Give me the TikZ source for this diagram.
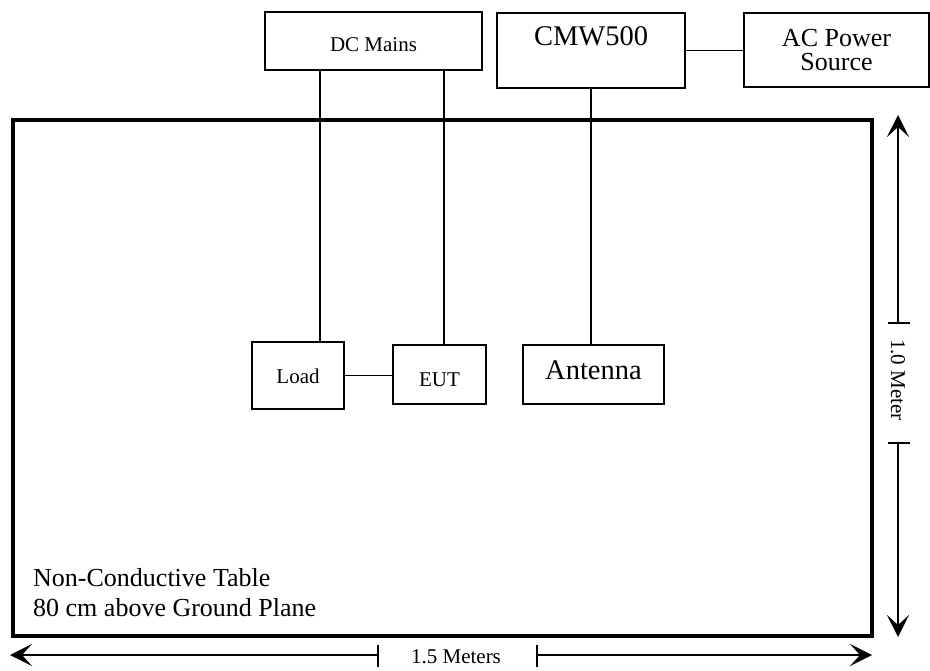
\documentclass[tikz,border=0pt]{standalone}
\usepackage{fontspec}
\setmainfont{Liberation Serif}
\usetikzlibrary{arrows.meta}
\tikzset{>={Stealth[length=22pt,width=22pt,inset=10pt]},
  unit/.style={draw, line width=1.8pt, inner xsep=0pt, inner ysep=0pt},
  tablebox/.style={draw, line width=3.3pt, inner sep=0pt},
  big/.style={font=\fontsize{28.5}{24}\selectfont},
  twoline/.style={font=\fontsize{26}{24}\selectfont},
  small/.style={font=\fontsize{21}{24}\selectfont},
  note/.style={font=\fontsize{26}{30}\selectfont, inner sep=0pt},
  dimtext/.style={font=\fontsize{21}{24}\selectfont, inner sep=0pt},
  wire/.style={line width=1.7pt},
  dim/.style={line width=1.3pt}}

\begin{document}
\begin{tikzpicture}[x=1pt,y=-1pt]
\useasboundingbox (0,0) rectangle (930,671);
\node[tablebox, minimum width=859pt, minimum height=516pt] (tbl) at (442.5,378) {};
\node[unit, small, minimum width=217pt, text height=40pt, text depth=18pt] (dc) at (373.5,41) {DC Mains};
\node[unit, big, minimum width=188pt, text height=33pt, text depth=42pt] (cmw) at (591,50.5) {CMW500};
\node[unit, twoline, align=center, minimum width=185pt, minimum height=74pt] (ac) at (836.5,50) {AC Power\\Source};
\node[unit, small, minimum width=92pt, text height=41pt, text depth=26pt] (load) at (298,375.5) {Load};
\node[unit, small, minimum width=93pt, text height=41pt, text depth=18pt] (eut) at (439.5,374.5) {EUT};
\node[unit, big, minimum width=141pt, text height=34pt, text depth=25pt] (ant) at (593.5,374.5) {Antenna};
\node[note, anchor=north west, align=left] (tblnote) at (33,568) {Non-Conductive Table\\80 cm above Ground Plane};

\draw[wire] ([xshift=22pt]load.north) -- ([xshift=22pt]load.north |- dc.south);
\draw[wire] ([xshift=4.5pt]eut.north) -- ([xshift=4.5pt]eut.north |- dc.south);
\draw[wire] (cmw.south) -- (cmw.south |- ant.north);
\draw[wire] (load.east) -- (load.east -| eut.west);
\draw[wire] (cmw.east) -- (cmw.east -| ac.west);

\coordinate (vtop) at (898,115);
\coordinate (vbot) at (898,637);
\coordinate (vta) at (898,323);
\coordinate (vtb) at (898,443);
\draw[dim,->] (vta) -- (vtop);
\draw[dim,->] (vtb) -- (vbot);
\draw[dim] (vta) ++(-10,0) -- ++(22,0);
\draw[dim] (vtb) ++(-10,0) -- ++(22,0);
\node[dimtext, rotate=-90] (vlabel) at (898,380) {1.0 Meter};

\coordinate (hleft) at (10,655);
\coordinate (hright) at (872,655);
\coordinate (hta) at (378,655);
\coordinate (htb) at (537,655);
\draw[dim,->] (hta) -- (hleft);
\draw[dim,->] (htb) -- (hright);
\draw[dim] (hta) ++(0,-10) -- ++(0,22);
\draw[dim] (htb) ++(0,-10) -- ++(0,22);
\node[dimtext] (hlabel) at (456,657) {1.5 Meters};
\end{tikzpicture}
\end{document}
